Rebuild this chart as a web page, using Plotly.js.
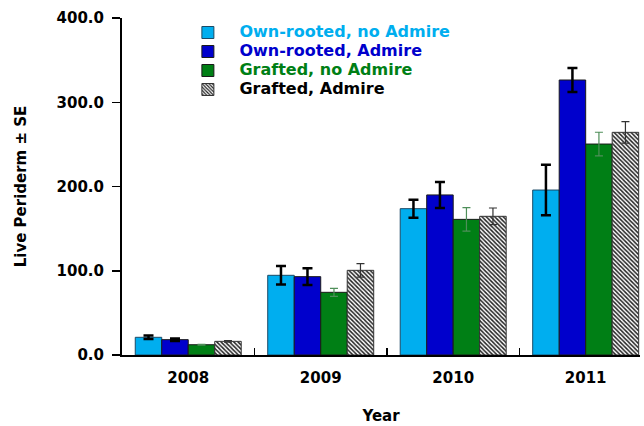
<!DOCTYPE html>
<html>
<head>
<meta charset="utf-8">
<script src="https://cdn.plot.ly/plotly-3.0.1.min.js"></script>
<style>html,body{margin:0;padding:0;background:#fff;}#chart{width:644px;height:426px;}</style>
</head>
<body>
<div id="chart"></div>
<script>
var years = ['2008', '2009', '2010', '2011'];
var seriesNames = ['Own-rooted, no Admire', 'Own-rooted, Admire', 'Grafted, no Admire', 'Grafted, Admire'];
var ownNoAdmire = [21, 94.6, 173.7, 195.8];
var ownNoAdmireSE = [2, 11, 10.7, 30];
var ownAdmire = [18.2, 93, 190, 326.4];
var ownAdmireSE = [1.5, 10, 15.4, 14.2];
var graftNoAdmire = [12.2, 74.4, 161, 250.4];
var graftNoAdmireSE = [0.5, 4.7, 14, 14];
var graftAdmire = [16.2, 100.5, 164.6, 264.3];
var graftAdmireSE = [1, 8, 9.9, 12.8];

var FONT = 'DejaVu Sans, Arial, sans-serif';
var colors = ['#00aeef', '#0000cc', '#007f15', '#000000'];

function nameHtml(i) {
  return '<span style="font-size:16px;color:' + colors[i] + '">' + seriesNames[i] + '</span>';
}

var traces = [
  {
    type: 'bar', x: years, y: ownNoAdmire, name: nameHtml(0),
    marker: {color: '#00aeef', line: {color: '#1b4a66', width: 1}},
    error_y: {type: 'data', array: ownNoAdmireSE, visible: true, color: '#000', thickness: 2.5, width: 5}
  },
  {
    type: 'bar', x: years, y: ownAdmire, name: nameHtml(1),
    marker: {color: '#0000cc', line: {color: '#1a1a1a', width: 1}},
    error_y: {type: 'data', array: ownAdmireSE, visible: true, color: '#000', thickness: 2.5, width: 5}
  },
  {
    type: 'bar', x: years, y: graftNoAdmire, name: nameHtml(2),
    marker: {color: '#007f15', line: {color: '#1a1a1a', width: 1}},
    error_y: {type: 'data', array: graftNoAdmireSE, visible: true, color: '#4f8f5a', thickness: 1.2, width: 4}
  },
  {
    type: 'bar', x: years, y: graftAdmire, name: nameHtml(3),
    marker: {color: '#ffffff', line: {color: '#333', width: 1},
      pattern: {shape: '\\', fgcolor: '#222', bgcolor: '#ffffff', size: 3, solidity: 0.5}},
    error_y: {type: 'data', array: graftAdmireSE, visible: true, color: '#333', thickness: 1.2, width: 4}
  }
];

var layout = {
  width: 644, height: 426,
  margin: {l: 122, r: 4, t: 18, b: 71, pad: 0},
  paper_bgcolor: '#fff', plot_bgcolor: '#fff',
  font: {family: FONT, size: 15, color: '#000', weight: 'bold'},
  barmode: 'group', bargap: 0.2, bargroupgap: 0,
  showlegend: true,
  legend: {
    x: 0.105, y: 1.0, xanchor: 'left', yanchor: 'top',
    font: {family: FONT, size: 11, weight: 'bold'},
    itemwidth: 53, tracegroupgap: 0, bgcolor: 'rgba(0,0,0,0)',
    traceorder: 'normal'
  },
  xaxis: {
    type: 'category', range: [-0.5, 3.41],
    showline: true, linecolor: '#000', linewidth: 2,
    ticks: 'inside', tickson: 'boundaries', ticklen: 7, tickwidth: 1.5, tickcolor: '#000',
    showgrid: false, zeroline: false, ticklabelstandoff: 8,
    tickfont: {family: FONT, size: 15, weight: 'bold'},
    title: {text: 'Year', font: {family: FONT, size: 15, weight: 'bold'}, standoff: 24}
  },
  yaxis: {
    range: [0, 400], tickvals: [0, 100, 200, 300, 400], tickformat: '.1f',
    showline: true, linecolor: '#000', linewidth: 2,
    ticks: 'outside', ticklen: 8, tickwidth: 1.5, tickcolor: '#000',
    showgrid: false, zeroline: false, ticklabelstandoff: 5,
    tickfont: {family: FONT, size: 15, weight: 'bold'},
    title: {text: 'Live Periderm ± SE', font: {family: FONT, size: 15, weight: 'bold'}, standoff: 26}
  }
};

Plotly.newPlot('chart', traces, layout, {displayModeBar: false, staticPlot: true});
</script>
</body>
</html>
